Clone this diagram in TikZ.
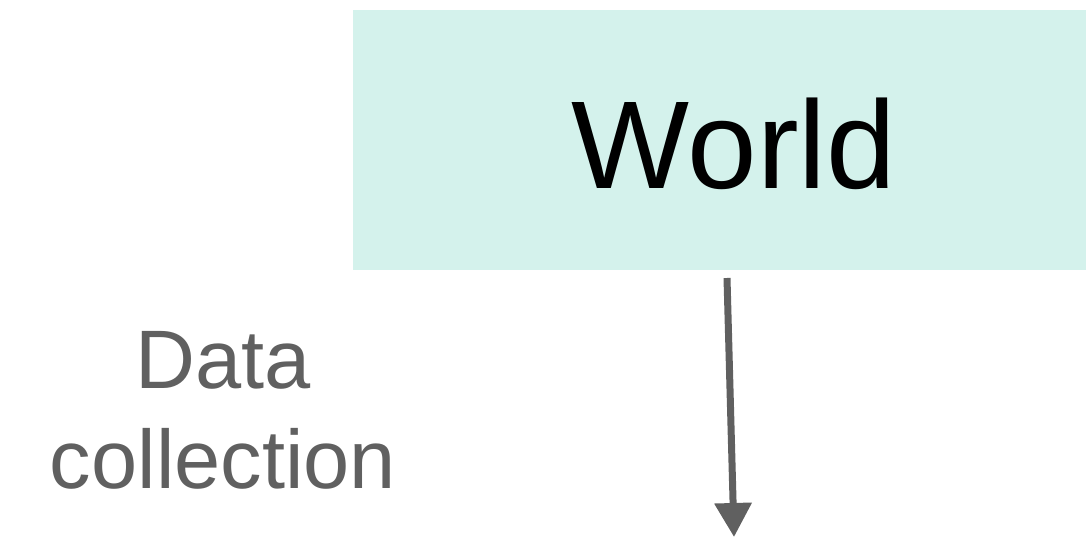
\documentclass[tikz,border=0pt]{standalone}
\usepackage{fontspec}
\setmainfont{Liberation Sans}
\usetikzlibrary{arrows.meta}
\definecolor{worldfill}{HTML}{D4F2EC}
\definecolor{flowgray}{HTML}{606060}
\tikzset{
  worldbox/.style={rectangle, fill=worldfill, inner sep=0pt,
    minimum width=762pt, minimum height=260pt,
    text height=98pt, text depth=0pt,
    font=\fontsize{125}{150}\selectfont, text=black},
  flowarrow/.style={draw=flowgray, line width=7pt,
    -{Triangle[length=34pt, width=36pt, fill=flowgray]}},
  steplabel/.style={align=center, text=flowgray, inner sep=0pt,
    font=\fontsize{83}{100}\selectfont}
}
\begin{document}
\begin{tikzpicture}[x=1pt, y=-1pt]
  \useasboundingbox (0,0) rectangle (1086,537);
  % the world, running past the right edge
  \node[worldbox] (world) at (734,140) {World};
  % data flows out of the world
  \coordinate (flowstart) at (727,278);
  \coordinate (flowend) at (734,537);
  \draw[flowarrow] (flowstart) -- (flowend);
  \node[steplabel, anchor=base] (collect) at (223,488) {Data\\collection};
\end{tikzpicture}
\end{document}
